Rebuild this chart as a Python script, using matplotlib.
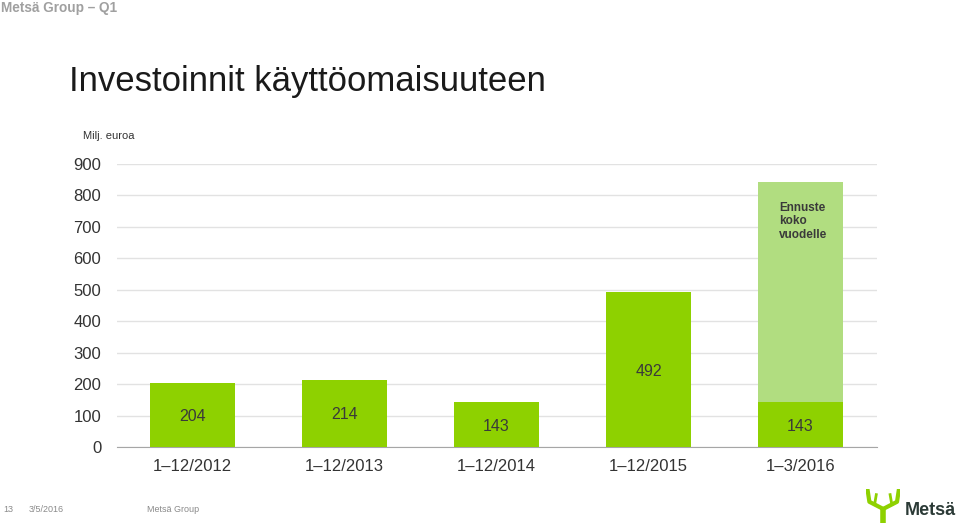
import numpy as np
import matplotlib.pyplot as plt

plt.rcParams['font.family'] = ['Liberation Sans', 'DejaVu Sans']

# --- data (Milj. euroa) ---
periods = ['1\u201312/2012', '1\u201312/2013', '1\u201312/2014', '1\u201312/2015', '1\u20133/2016']
actual = [204, 214, 143, 492, 143]
forecast_extra = [0, 0, 0, 0, 700]   # forecast for the full year on top of Q1
y_ticks = [0, 100, 200, 300, 400, 500, 600, 700, 800, 900]

GREEN = '#8ED100'
LIGHT_GREEN = '#B1DD80'
TEXT = '#3A3A3A'

fig = plt.figure(figsize=(9.6, 5.25), dpi=100)
ax = fig.add_axes([0.1214, 0.1486, 0.7917, 0.539])

x = np.arange(len(periods))
ax.bar(x, actual, width=0.56, color=GREEN, zorder=3)
ax.bar(x, forecast_extra, bottom=actual, width=0.56, color=LIGHT_GREEN, zorder=3)

for xi, v in zip(x, actual):
    ax.text(xi, v / 2, f'{v}', ha='center', va='center_baseline', fontsize=11.5,
            color=TEXT, zorder=4)

ax.text(x[-1] - 0.14, 718, 'Ennuste\nkoko\nvuodelle', ha='left', va='center',
        fontsize=8.5, fontweight='bold', color=TEXT, linespacing=1.15, zorder=4)

ax.set_xlim(-0.5, len(periods) - 0.5)
ax.set_ylim(0, 900)
ax.set_yticks(y_ticks)
ax.set_xticks(x)
ax.set_xticklabels(periods)
ax.tick_params(axis='both', length=0, labelsize=12, colors='#333333')
ax.tick_params(axis='y', pad=11)
ax.tick_params(axis='x', pad=9)
ax.grid(axis='y', color='#E2E2E2', lw=1, zorder=0)
for s in ['top', 'right', 'left']:
    ax.spines[s].set_visible(False)
ax.spines['bottom'].set_color('#A6A6A6')

# --- slide furniture ---
fig.text(0.001, 0.998, 'Mets\u00e4 Group \u2013 Q1', ha='left', va='top',
         fontsize=9.8, fontweight='bold', color='#A0A0A0')
fig.text(0.072, 0.845, 'Investoinnit k\u00e4ytt\u00f6omaisuuteen', ha='left', va='center',
         fontsize=25, color='#1A1A1A')
fig.text(0.086, 0.741, 'Milj. euroa', ha='left', va='center', fontsize=8, color='#333333')
fig.text(0.003, 0.030, '13', ha='left', va='center', fontsize=6.5, color='#8A8A8A')
fig.text(0.030, 0.030, '3/5/2016', ha='left', va='center', fontsize=6.5, color='#8A8A8A')
fig.text(0.153, 0.030, 'Mets\u00e4 Group', ha='left', va='center', fontsize=6.5, color='#8A8A8A')

# logo: simple antler mark + wordmark
logo = fig.add_axes([0.902, 0.0, 0.036, 0.068])
logo.set_xlim(0, 1)
logo.set_ylim(0, 1)
logo.axis('off')
logo.plot([0.5, 0.5], [0.05, 0.45], color=GREEN, lw=4, solid_capstyle='butt')
logo.plot([0.5, 0.1, 0.05], [0.45, 0.65, 0.97], color=GREEN, lw=3)
logo.plot([0.5, 0.9, 0.95], [0.45, 0.65, 0.97], color=GREEN, lw=3)
logo.plot([0.25, 0.3], [0.57, 0.85], color=GREEN, lw=2)
logo.plot([0.75, 0.7], [0.57, 0.85], color=GREEN, lw=2)
fig.text(0.942, 0.027, 'Mets\u00e4', ha='left', va='center', fontsize=13,
         fontweight='bold', color='#2B3A36')

fig.savefig('out.png', dpi=100)
